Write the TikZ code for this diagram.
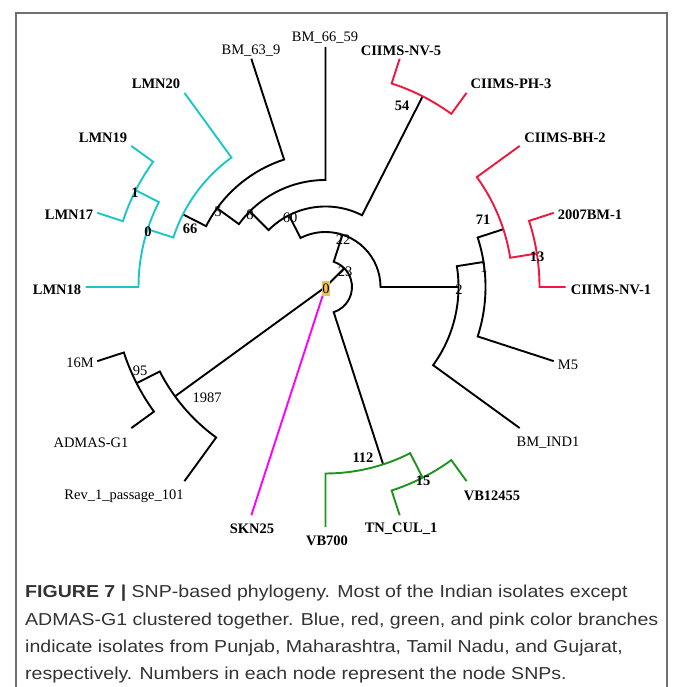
\documentclass[tikz,border=0pt]{standalone}
\usepackage{fontspec}
\setmainfont{Liberation Serif}
\newfontfamily\capfont[FakeStretch=1.13]{Liberation Sans}
\definecolor{lmncyan}{HTML}{1CC6C6}
\definecolor{ciimsred}{HTML}{F0173E}
\definecolor{tngreen}{HTML}{1E941E}
\definecolor{gjpink}{HTML}{FF00FF}
\definecolor{rootfill}{HTML}{EFC15C}
\definecolor{framegray}{HTML}{707070}
\definecolor{captext}{HTML}{333333}
% one internal node: first child -- arc at the node radius -- second child
\newcommand\clade[6]{%
  \draw[tree,#1] (#5) -- (#3:#2) arc[start angle=#3,end angle=#4,radius=#2] -- (#6);}
\begin{document}
\begin{tikzpicture}[x=1pt,y=1pt,
  tree/.style={line width=1.9pt,line join=miter},
  tip/.style={font=\fontsize{14.5}{16}\selectfont,inner sep=0pt},
  tipb/.style={tip,font=\fontsize{14.5}{16}\selectfont\bfseries},
  captionline/.style={anchor=base west,inner sep=0pt,text=captext,
    font=\capfont\fontsize{17.3}{20}\selectfont}]
\useasboundingbox (0,0) rectangle (676,687);

% panel frame (open at the bottom)
\draw[framegray,line width=1.5pt] (16,-5) -- (16,674) -- (667,674) -- (667,-5);

\begin{scope}[shift={(325.5,400)}]
  % tips, every 18 degrees on radius 240
  \coordinate (tBM6659) at (90:240);
  \coordinate (tBM639)  at (108:240);
  \coordinate (tLMN20)  at (126:240);
  \coordinate (tLMN19)  at (144:240);
  \coordinate (tLMN17)  at (162:240);
  \coordinate (tLMN18)  at (180:240);
  \coordinate (t16M)    at (198:240);
  \coordinate (tADMAS)  at (216:240);
  \coordinate (tRev)    at (234:240);
  \coordinate (tSKN25)  at (252:240);
  \coordinate (tVB700)  at (270:240);
  \coordinate (tTN)     at (288:240);
  \coordinate (tVB12455) at (306:240);
  \coordinate (tBMIND)  at (324:240);
  \coordinate (tM5)     at (342:240);
  \coordinate (tNV1)    at (0:240);
  \coordinate (t2007)   at (18:240);
  \coordinate (tBH2)    at (36:240);
  \coordinate (tPH3)    at (54:240);
  \coordinate (tNV5)    at (72:240);
  % internal nodes
  \coordinate (root)  at (0:0);
  \coordinate (n23)   at (45:26.5);
  \coordinate (n22)   at (72:55);
  \coordinate (n112)  at (-72:186.5);
  \coordinate (n2)    at (0:133);
  \coordinate (n60)   at (117:80.5);
  \coordinate (n1r)   at (9:160);
  \coordinate (n71)   at (18:187);
  \coordinate (n13)   at (9:214);
  \coordinate (n54)   at (63:214);
  \coordinate (n8)    at (135:107);
  \coordinate (n5)    at (144:134);
  \coordinate (n66)   at (153:160);
  \coordinate (n0c)   at (162:187);
  \coordinate (n1c)   at (153:213);
  \coordinate (n15)   at (-63:214);
  \coordinate (n1987) at (216:186);
  \coordinate (n95)   at (207:212);

  % branches out of the root
  \draw[tree] (root) -- (n23);
  \draw[tree] (root) -- (n1987);
  \draw[tree,gjpink] (root) -- (tSKN25);

  % clades
  \clade{black}{26.5}{-72}{72}{n112}{n22}
  \clade{black}{55}{0}{117}{n2}{n60}
  \clade{black}{133}{-36}{9}{tBMIND}{n1r}
  \clade{black}{160}{-18}{18}{tM5}{n71}
  \clade{ciimsred}{187}{9}{36}{n13}{tBH2}
  \clade{ciimsred}{214}{0}{18}{tNV1}{t2007}
  \clade{black}{80.5}{63}{135}{n54}{n8}
  \clade{ciimsred}{214}{54}{72}{tPH3}{tNV5}
  \clade{black}{107}{90}{144}{tBM6659}{n5}
  \clade{black}{134}{108}{153}{tBM639}{n66}
  \clade{lmncyan}{160}{126}{162}{tLMN20}{n0c}
  \clade{lmncyan}{187}{153}{180}{n1c}{tLMN18}
  \clade{lmncyan}{213}{144}{162}{tLMN19}{tLMN17}
  \clade{tngreen}{186.5}{-90}{-63}{tVB700}{n15}
  \clade{tngreen}{214}{-72}{-54}{tTN}{tVB12455}
  \clade{black}{186}{207}{234}{n95}{tRev}
  \clade{black}{212}{198}{216}{t16M}{tADMAS}
\end{scope}

% root label
\node[fill=rootfill,inner xsep=0.7pt,inner ysep=2.2pt,
  font=\fontsize{14.5}{16}\selectfont] (lroot) at (326,398.5) {0};

% node SNP counts
\node[tip]  (l23)   at (345,415)   {23};
\node[tip]  (l22)   at (343,447)   {22};
\node[tip]  (l60)   at (290,469)   {60};
\node[tip]  (l8)    at (250,472.5) {8};
\node[tip]  (l5)    at (218,475)   {5};
\node[tipb] (l66)   at (190,458)   {66};
\node[tipb] (l0c)   at (148,455)   {0};
\node[tipb] (l1c)   at (135,494)   {1};
\node[tipb] (l54)   at (402,581)   {54};
\node[tipb] (l71)   at (483,467)   {71};
\node[tip]  (l1r)   at (484,419)   {1};
\node[tip]  (l2)    at (459,397)   {2};
\node[tipb] (l13)   at (537,430)   {13};
\node[tip]  (l1987) at (207,289)   {1987};
\node[tip]  (l95)   at (140,316)   {95};
\node[tipb] (l112)  at (363,229)   {112};
\node[tipb] (l15)   at (423,206)   {15};

% isolate names
\node[tip]  (nBM6659) at (325,649) {BM\_66\_59};
\node[tip]  (nBM639)  at (251,636) {BM\_63\_9};
\node[tipb] (nLMN20)  at (156,603) {LMN20};
\node[tipb] (nLMN19)  at (103,549) {LMN19};
\node[tipb] (nLMN17)  at (69,472)  {LMN17};
\node[tipb] (nLMN18)  at (57,397)  {LMN18};
\node[tip]  (n16M)    at (80,324)  {16M};
\node[tip]  (nADMAS)  at (91,244)  {ADMAS-G1};
\node[tip]  (nRev)    at (124,191) {Rev\_1\_passage\_101};
\node[tipb] (nSKN25)  at (252,158) {SKN25};
\node[tipb] (nVB700)  at (327,146) {VB700};
\node[tipb] (nTN)     at (401,158) {TN\_CUL\_1};
\node[tipb] (nVB12455) at (492,191) {VB12455};
\node[tip]  (nBMIND)  at (548,244) {BM\_IND1};
\node[tip]  (nM5)     at (568,322) {M5};
\node[tipb] (nNV1)    at (611,397) {CIIMS-NV-1};
\node[tipb] (n2007)   at (590,472) {2007BM-1};
\node[tipb] (nBH2)    at (565,549) {CIIMS-BH-2};
\node[tipb] (nPH3)    at (511,603) {CIIMS-PH-3};
\node[tipb] (nNV5)    at (401,636) {CIIMS-NV-5};

% caption
\node[captionline] (cap1) at (25,89)   {\textbf{FIGURE 7 |} SNP-based phylogeny. Most of the Indian isolates except};
\node[captionline] (cap2) at (25,61.5) {ADMAS-G1 clustered together. Blue, red, green, and pink color branches};
\node[captionline] (cap3) at (25,34)   {indicate isolates from Punjab, Maharashtra, Tamil Nadu, and Gujarat,};
\node[captionline] (cap4) at (25,7)    {respectively. Numbers in each node represent the node SNPs.};
\end{tikzpicture}
\end{document}
